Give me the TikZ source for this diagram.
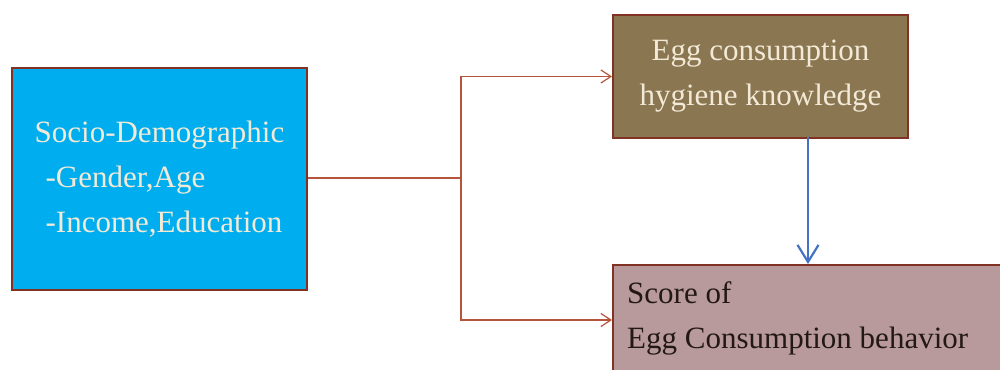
\documentclass[tikz,border=0pt]{standalone}
\usepackage{fontspec}
\setmainfont{Liberation Serif}
\usetikzlibrary{arrows.meta}
\definecolor{cyanbox}{RGB}{0,174,239}
\definecolor{olivebox}{RGB}{139,118,82}
\definecolor{mauvebox}{RGB}{184,154,156}
\definecolor{edgebrown}{RGB}{130,50,35}
\definecolor{connred}{RGB}{180,85,60}
\definecolor{cream}{RGB}{242,234,214}
\definecolor{darktext}{RGB}{35,24,21}
\definecolor{bluearrow}{RGB}{68,114,196}
\tikzset{
  boxstyle/.style={draw=edgebrown, line width=2pt, inner sep=0pt,
    font=\fontsize{31}{45}\selectfont},
  conn/.style={draw=connred, line width=1.3pt},
  connarrow/.style={conn, -{Straight Barb[length=10pt,width=13pt,line width=1.2pt]}},
  bluearr/.style={draw=bluearrow, line width=2.6pt,
    -{Straight Barb[length=17pt,width=21pt,line width=2.2pt]}}
}
\begin{document}
\begin{tikzpicture}[x=1pt,y=-1pt]
\useasboundingbox (0,0) rectangle (1000,369);
\clip (0,0) rectangle (1000,369);
\node[boxstyle, fill=cyanbox, text=cream, minimum width=295pt, minimum height=222pt, align=left]
  (demo) at (159.5,179) {Socio-Demographic\\\hspace*{11pt}-Gender,Age\\\hspace*{11pt}-Income,Education};
\node[boxstyle, fill=olivebox, text=cream, minimum width=295pt, minimum height=123pt, align=center]
  (know) at (760.5,76.5) {Egg consumption\\hygiene knowledge};
\node[boxstyle, fill=mauvebox, minimum width=390pt, minimum height=110pt]
  (score) at (808,320) {};
\node[text=darktext, font=\fontsize{31}{45}\selectfont, align=left, inner sep=0pt, anchor=west]
  (scoretext) at (627,318) {Score of\\Egg Consumption behavior};
\coordinate (split) at (461,178);
\draw[conn] (demo.east |- split) -- (split);
\draw[connarrow] (split) |- (know.west);
\draw[connarrow] (split) |- (score.west);
\draw[bluearr] ([yshift=2pt]know.south -| score.north) -- (score.north);
\end{tikzpicture}
\end{document}
